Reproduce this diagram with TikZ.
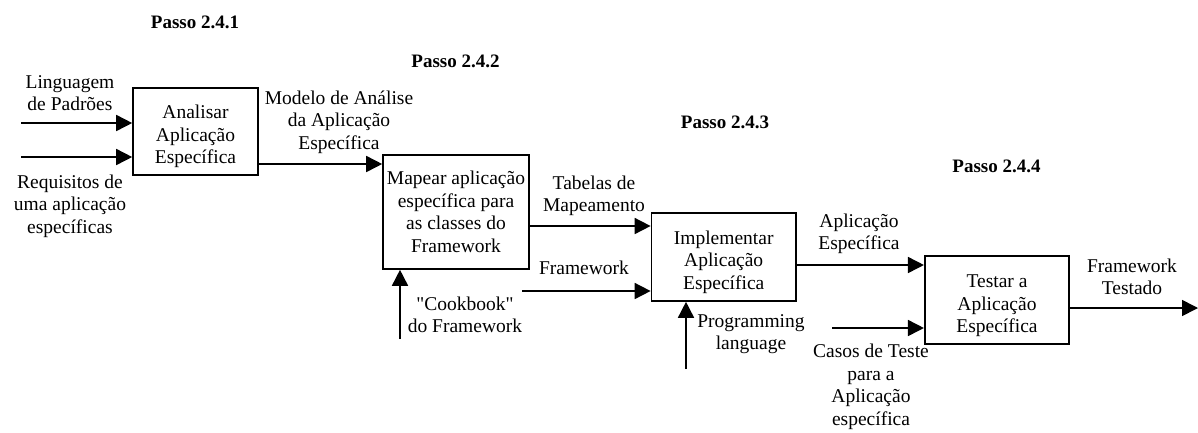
\documentclass[tikz,border=0pt]{standalone}
\usepackage{fontspec}
\setmainfont{Liberation Serif}[Ligatures=TeXOff]
\usetikzlibrary{arrows.meta}
\begin{document}
\begin{tikzpicture}[x=1pt,y=-1pt,
  every node/.style={font=\fontsize{19.5}{22.5}\selectfont, align=center, inner sep=0pt},
  box/.style={draw, line width=1.6pt},
  lbl/.style={},
  passo/.style={font=\fontsize{19}{22}\selectfont\bfseries},
  arr/.style={line width=1.6pt, -{Triangle[length=16pt,width=16pt]}}]
\useasboundingbox (0,0) rectangle (1198,432);
% boxes
\node[box, minimum width=125pt, minimum height=87pt,
  label={[yshift=-5pt]center:Analisar\\Aplicação\\Específica}] (b1) at (195.5,131.5) {};
\node[box, minimum width=146pt, minimum height=114pt] (b2) at (456,212) {Mapear aplicação\\específica para\\as classes do\\Framework};
\node[box, minimum width=144.5pt, minimum height=88pt,
  label={[yshift=-5pt]center:Implementar\\Aplicação\\Específica}] (b3) at (723.7,257) {};
\node[box, minimum width=144.5pt, minimum height=88pt,
  label={[yshift=-6pt]center:Testar a\\Aplicação\\Específica}] (b4) at (997,300) {};
% step titles
\node[passo] (p1) at (195,22) {Passo 2.4.1};
\node[passo] (p2) at (455.5,61) {Passo 2.4.2};
\node[passo] (p3) at (725,122) {Passo 2.4.3};
\node[passo] (p4) at (996.5,166) {Passo 2.4.4};
% labels
\node[lbl] (t1) at (70,93) {Linguagem\\de Padrões};
\node[lbl] (t2) at (70,206) {Requisitos de\\uma aplicação\\específicas};
\node[lbl] (t3) at (339,122) {Modelo de Análise\\da Aplicação\\Específica};
\node[lbl] (t4) at (594,196) {Tabelas de\\Mapeamento};
\node[lbl] (t5) at (584,268) {Framework};
\node[lbl] (t6) at (465,315) {"Cookbook"\\do Framework};
\node[lbl] (t7) at (859,234) {Aplicação\\Específica};
\node[lbl] (t8) at (751,334) {Programming\\language};
\node[lbl] (t9) at (871,387) {Casos de Teste\\para a\\Aplicação\\específica};
\node[lbl] (t10) at (1132,277) {Framework\\Testado};
% connector ends
\coordinate (i1) at (21,123);
\coordinate (i2) at (21,157);
\coordinate (c12) at (0,164);
\coordinate (c23) at (0,226);
\coordinate (fw) at (522,291);
\coordinate (cb) at (400,339);
\coordinate (c34) at (0,265);
\coordinate (pl) at (686,369);
\coordinate (ct) at (832,328);
\coordinate (c4o) at (0,308);
\coordinate (out) at (1198,308);
% connectors
\draw[arr] (i1) -- (i1 -| b1.west);
\draw[arr] (i2) -- (i2 -| b1.west);
\draw[arr] (c12 -| b1.east) -- (c12 -| b2.west);
\draw[arr] (c23 -| b2.east) -- (c23 -| b3.west);
\draw[arr] (fw) -- (fw -| b3.west);
\draw[arr] (cb) -- (cb |- b2.south);
\draw[arr] (c34 -| b3.east) -- (c34 -| b4.west);
\draw[arr] (pl) -- (pl |- b3.south);
\draw[arr] (ct) -- (ct -| b4.west);
\draw[arr] (c4o -| b4.east) -- (out);
\end{tikzpicture}
\end{document}
